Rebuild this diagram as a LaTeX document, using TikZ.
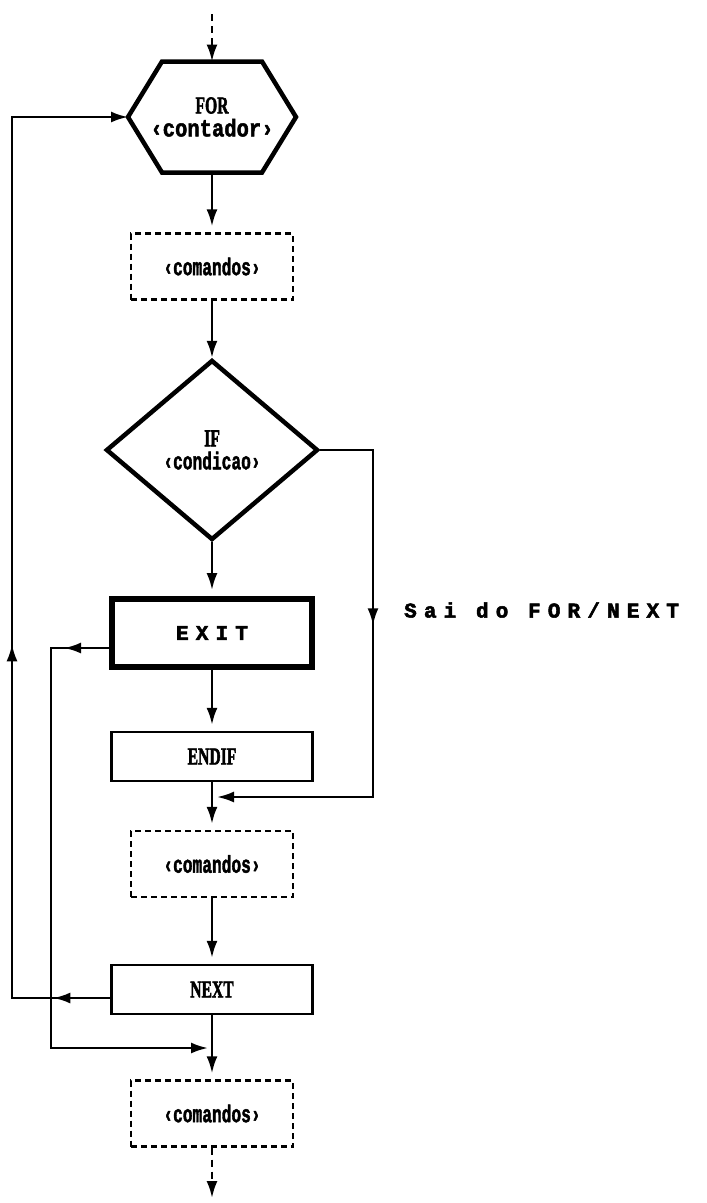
\documentclass[tikz,border=0pt]{standalone}
\usepackage{fontspec}
\usetikzlibrary{arrows.meta,shapes.geometric,decorations.markings,calc}

\newfontfamily\kwfont{Liberation Serif}[BoldFeatures={FakeBold=2.5}]
\newfontfamily\lblmono{Liberation Mono}[BoldFeatures={FakeBold=2}]
\newfontfamily\spacedmono{Liberation Mono}[LetterSpace=34, BoldFeatures={FakeBold=2.5}]

% keyword in a narrow bold face
\newcommand\kwtxt[1]{\scalebox{0.68}[1.05]{\kwfont\bfseries\fontsize{23}{23}\selectfont #1}}
% argument between angle brackets
\newcommand\argtxt[2][0.9]{\scalebox{#1}[1.35]{\lblmono\bfseries\fontsize{18}{18}\selectfont ‹#2›}}
% wide-spaced typewriter text
\newcommand\widetxt[1]{{\spacedmono\bfseries\fontsize{21}{21}\selectfont #1}}

\begin{document}
\begin{tikzpicture}[x=1pt, y=-1pt, line width=2.4pt,
  arr/.style={-{Latex[length=17pt,width=11pt]}},
  stopshort/.style={shorten >=6pt},
  dashline/.style={dash pattern=on 7pt off 5pt},
  twoline/.style={align=center, font=\fontsize{12}{23}\selectfont},
  dashbox/.style={draw, dash pattern=on 6pt off 4pt, line width=2.4pt,
    minimum width=162pt, minimum height=66pt, inner sep=0pt},
  plainbox/.style={draw, line width=2.4pt, minimum width=201pt,
    minimum height=49pt, inner sep=0pt},
  exitbox/.style={draw, line width=6pt, minimum width=200pt,
    minimum height=68pt, inner sep=0pt},
  hexbox/.style={twoline, minimum width=168pt, minimum height=111pt,
    inner sep=0pt, outer sep=0pt},
  decision/.style={twoline, diamond, draw, line width=4.5pt,
    minimum width=212pt, minimum height=180pt, inner sep=0pt},
  midarrow/.style={postaction={decorate}, decoration={markings,
    mark=at position #1 with {\arrow{Latex[length=17pt,width=11pt]}}}},
  midarrows/.style 2 args={postaction={decorate}, decoration={markings,
    mark=at position #1 with {\arrow{Latex[length=17pt,width=11pt]}},
    mark=at position #2 with {\arrow{Latex[length=17pt,width=11pt]}}}}
]
\fill[white] (0,0) rectangle (707,1203);
\useasboundingbox (0,0) rectangle (707,1203);

% blocks of the loop
\node[hexbox] (for) at (212,117) {\kwtxt{FOR}\\\argtxt[1.14]{contador}};
\draw[line width=4.5pt, line join=miter]
  (for.west) -- ([xshift=34pt]for.north west) -- ([xshift=-34pt]for.north east)
  -- (for.east) -- ([xshift=-34pt]for.south east) -- ([xshift=34pt]for.south west)
  -- cycle;
\node[dashbox] (com1) at (212,266.5) {\argtxt{comandos}};
\node[decision] (if) at (212,450) {\kwtxt{IF}\\\argtxt{condicao}};
\node[exitbox] (exit) at (212,633) {\widetxt{EXIT}};
\node[plainbox] (endif) at (212,756.5) {\kwtxt{ENDIF}};
\node[dashbox] (com2) at (212,864) {\argtxt{comandos}};
\node[plainbox] (next) at (212,989.5) {\kwtxt{NEXT}};
\node[dashbox] (com3) at (212,1113.5) {\argtxt{comandos}};
\node[anchor=west, inner sep=0pt] (sai) at (403,610) {\widetxt{Sai do FOR/NEXT}};

% rails and junctions
\coordinate (start) at (212,14);
\coordinate (finish) at (212,1198);
\coordinate (rrail) at (373,600);
\coordinate (lrail) at (12,600);
\coordinate (mrail) at (51,800);
\coordinate (join1) at (212,797);
\coordinate (join2) at (212,1048);
\coordinate (exitL) at ($(exit.west)+(0,15)$);
\coordinate (nextL) at ($(next.west)+(0,8.5)$);

% main flow
\draw[dashline, arr] (start) -- (for.north);
\draw[arr, stopshort] (for.south) -- (com1.north);
\draw[arr] (com1.south) -- (if.north);
\draw[arr, stopshort] (if.south) -- (exit.north);
\draw[arr, stopshort] (exit.south) -- (endif.north);
\draw[arr, stopshort] (endif.south) -- (com2.north);
\draw[arr, stopshort] (com2.south) -- (next.north);
\draw[arr, stopshort] (next.south) -- (com3.north);
\draw[dashline, arr] (com3.south) -- (finish);

% side branches
\draw[arr, shorten >=5pt, midarrow=228pt] (if.east) -| (rrail) |- (join1);
\draw[arr, shorten >=4pt, midarrow=45pt] (exitL) -| (mrail) |- (join2);
\draw[arr, midarrows={57pt}{452pt}] (nextL) -| (lrail) |- (for.west);
\end{tikzpicture}
\end{document}
